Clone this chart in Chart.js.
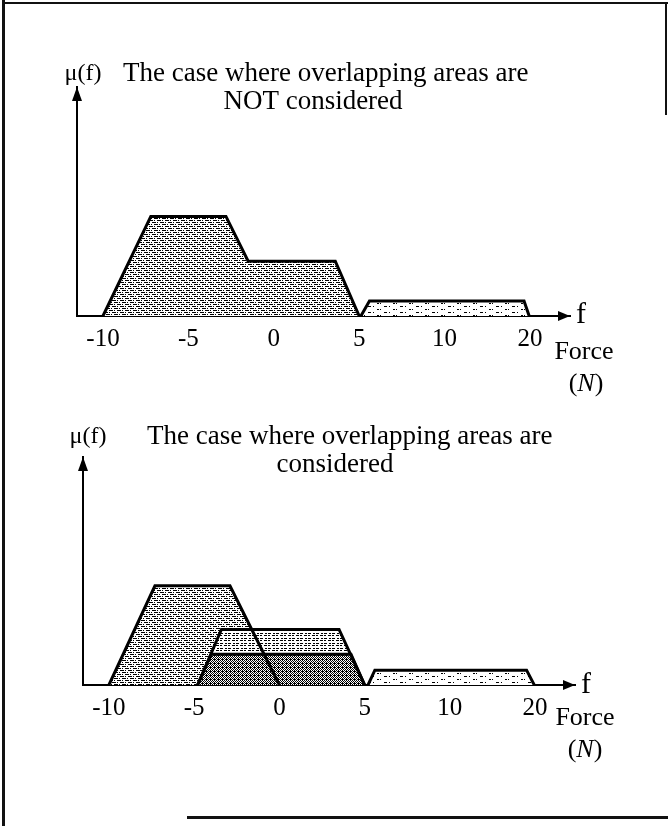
<!DOCTYPE html>
<html>
<head>
<meta charset="utf-8">
<title>Membership functions of force</title>
<script src="https://cdn.jsdelivr.net/npm/chart.js@4.4.1/dist/chart.umd.min.js"></script>
<style>
  html, body { margin: 0; padding: 0; background: #fff; }
  body { width: 668px; height: 826px; position: relative; overflow: hidden; }
  .panel { position: absolute; left: 0; width: 668px; }
  #topPanel { top: 0; height: 400px; }
  #bottomPanel { top: 400px; height: 426px; }
  .rule { position: absolute; background: #111; }
</style>
</head>
<body>
<div class="rule" style="left:2px;top:0;width:3px;height:826px"></div>
<div class="rule" style="left:2px;top:2px;width:666px;height:2px"></div>
<div class="rule" style="left:665px;top:2px;width:2px;height:113px"></div>
<div class="rule" style="left:187px;top:816px;width:481px;height:3px"></div>
<div class="panel" id="topPanel"><canvas id="chartTop"></canvas></div>
<div class="panel" id="bottomPanel"><canvas id="chartBottom"></canvas></div>
<script>
// tick values under the f axis (evenly spaced on paper, so 10 -> 20 is squeezed)
const tickForces = [-10, -5, 0, 5, 10, 20];
const tickLabels = ['-10', '-5', '0', '5', '10', '20'];

// top panel: overlapping areas NOT considered
const outerForce = [-10, -7.2, -2.8, -1.5, 3.6, 5];
const outerMu = [0, 1, 1, 0.55, 0.55, 0];
const smallForceTop = [5.1, 5.6, 19.3, 19.9];
const smallMuTop = [0, 0.15, 0.15, 0];

// bottom panel: overlapping areas considered
const setAForce = [-10, -7.3, -2.9, 0];
const setAMu = [0, 1, 1, 0];
const setBForce = [-4.8, -3.4, 3.5, 5];
const setBMu = [0, 0.56, 0.56, 0];
const overlapForce = [-4.8, -4.0, 4.2, 5];
const overlapMu = [0, 0.31, 0.31, 0];
const smallForceBottom = [5.2, 5.6, 19.0, 19.9];
const smallMuBottom = [0, 0.15, 0.15, 0];

const SERIF = "'Liberation Serif', 'Times New Roman', serif";

// the paper axis is linear up to 10, then half scale from 10 to 20
function toAxis(f) {
  return f <= 10 ? f : 10 + (f - 10) / 2;
}

function points(forces, mus) {
  return forces.map((f, i) => ({ x: toAxis(f), y: mus[i] }));
}

// little 1-bit tiles that imitate the scanned halftone fills
function makePattern(rows) {
  const c = document.createElement('canvas');
  c.width = rows[0].length;
  c.height = rows.length;
  const g = c.getContext('2d');
  g.fillStyle = '#fff';
  g.fillRect(0, 0, c.width, c.height);
  g.fillStyle = '#000';
  rows.forEach((row, y) => {
    for (let x = 0; x < row.length; x++) {
      if (row[x] === '#') g.fillRect(x, y, 1, 1);
    }
  });
  return g.createPattern(c, 'repeat');
}

const stripeDense = makePattern([
  '####.#..',
  '........',
  '..####.#',
  '........',
  '#.#..###',
  '........',
]);
const stripeLight = makePattern([
  '###.##..',
  '........',
  '........',
  '.##.###.',
  '........',
]);
const stripeSparse = makePattern([
  '###..#..........',
  '................',
  '................',
  '.........##.#...',
  '................',
  '................',
]);
const crossHatch = makePattern([
  '#.#.',
  '.#.#',
  '#.#.',
  '.###',
]);

function shape(data, pattern, order) {
  return {
    data: data,
    fill: 'origin',
    backgroundColor: pattern,
    borderColor: '#000',
    borderWidth: 3,
    borderJoinStyle: 'miter',
    pointRadius: 0,
    tension: 0,
    order: order
  };
}

const axisArrows = {
  id: 'axisArrows',
  afterDraw(chart) {
    const { ctx, chartArea: a } = chart;
    ctx.save();
    ctx.fillStyle = '#000';
    ctx.beginPath();
    ctx.moveTo(a.left, a.top);
    ctx.lineTo(a.left - 5, a.top + 14);
    ctx.lineTo(a.left + 5, a.top + 14);
    ctx.closePath();
    ctx.fill();
    ctx.beginPath();
    ctx.moveTo(a.right, a.bottom);
    ctx.lineTo(a.right - 12, a.bottom - 5);
    ctx.lineTo(a.right - 12, a.bottom + 5);
    ctx.closePath();
    ctx.fill();
    ctx.restore();
  }
};

const figureText = {
  id: 'figureText',
  afterDraw(chart, args, opts) {
    const ctx = chart.ctx;
    ctx.save();
    ctx.fillStyle = '#000';
    ctx.textBaseline = 'middle';
    (opts.items || []).forEach(it => {
      if (it.unit) {
        // "(N)" with an italic N
        const up = '26px ' + SERIF, it26 = 'italic 26px ' + SERIF;
        ctx.font = up;
        const wo = ctx.measureText('(').width, wc = ctx.measureText(')').width;
        ctx.font = it26;
        const wn = ctx.measureText('N').width;
        let x = it.x - (wo + wn + wc) / 2;
        ctx.textAlign = 'left';
        ctx.font = up; ctx.fillText('(', x, it.y); x += wo;
        ctx.font = it26; ctx.fillText('N', x, it.y); x += wn;
        ctx.font = up; ctx.fillText(')', x, it.y);
        return;
      }
      ctx.font = (it.size || 26) + 'px ' + SERIF;
      ctx.textAlign = it.align || 'center';
      ctx.fillText(it.text, it.x, it.y);
    });
    ctx.restore();
  }
};

function makeChart(id, datasets, padding, items) {
  return new Chart(document.getElementById(id), {
    type: 'line',
    data: { datasets: datasets },
    plugins: [axisArrows, figureText],
    options: {
      responsive: true,
      maintainAspectRatio: false,
      animation: false,
      layout: { padding: padding },
      plugins: {
        legend: { display: false },
        tooltip: { enabled: false },
        filler: { drawTime: 'beforeDatasetsDraw' },
        figureText: { items: items }
      },
      scales: {
        x: {
          type: 'linear',
          min: -11.52,
          max: 17.34,
          grid: { display: false, drawTicks: false },
          border: { display: true, color: '#000', width: 2 },
          afterBuildTicks: axis => {
            axis.ticks = tickForces.map(f => ({ value: toAxis(f) }));
          },
          ticks: {
            autoSkip: false,
            maxRotation: 0,
            padding: 8,
            color: '#000',
            font: { family: SERIF, size: 25 },
            callback: (value, index) => tickLabels[index]
          }
        },
        y: {
          min: 0,
          max: 2.3,
          grid: { display: false, drawTicks: false },
          border: { display: true, color: '#000', width: 2 },
          ticks: { display: false }
        }
      }
    }
  });
}

makeChart('chartTop', [
  shape(points(outerForce, outerMu), stripeDense, 1),
  shape(points(smallForceTop, smallMuTop), stripeSparse, 2)
], { left: 77, right: 98, top: 87, bottom: 38 }, [
  { text: 'μ(f)', x: 83, y: 74, size: 24 },
  { text: 'The case where overlapping areas are', x: 123, y: 74, size: 27, align: 'left' },
  { text: 'NOT considered', x: 313, y: 102, size: 27 },
  { text: 'f', x: 581, y: 315, size: 30 },
  { text: 'Force', x: 584, y: 352 },
  { unit: true, x: 586, y: 384 }
]);

makeChart('chartBottom', [
  shape(points(overlapForce, overlapMu), crossHatch, 1),
  shape(points(setBForce, setBMu), stripeLight, 2),
  shape(points(setAForce, setAMu), stripeDense, 3),
  shape(points(smallForceBottom, smallMuBottom), stripeSparse, 4)
], { left: 83, right: 93, top: 57, bottom: 95 }, [
  { text: 'μ(f)', x: 88, y: 37, size: 24 },
  { text: 'The case where overlapping areas are', x: 147, y: 37, size: 27, align: 'left' },
  { text: 'considered', x: 335, y: 65, size: 27 },
  { text: 'f', x: 586, y: 285, size: 30 },
  { text: 'Force', x: 585, y: 318 },
  { unit: true, x: 585, y: 350 }
]);
</script>
</body>
</html>
